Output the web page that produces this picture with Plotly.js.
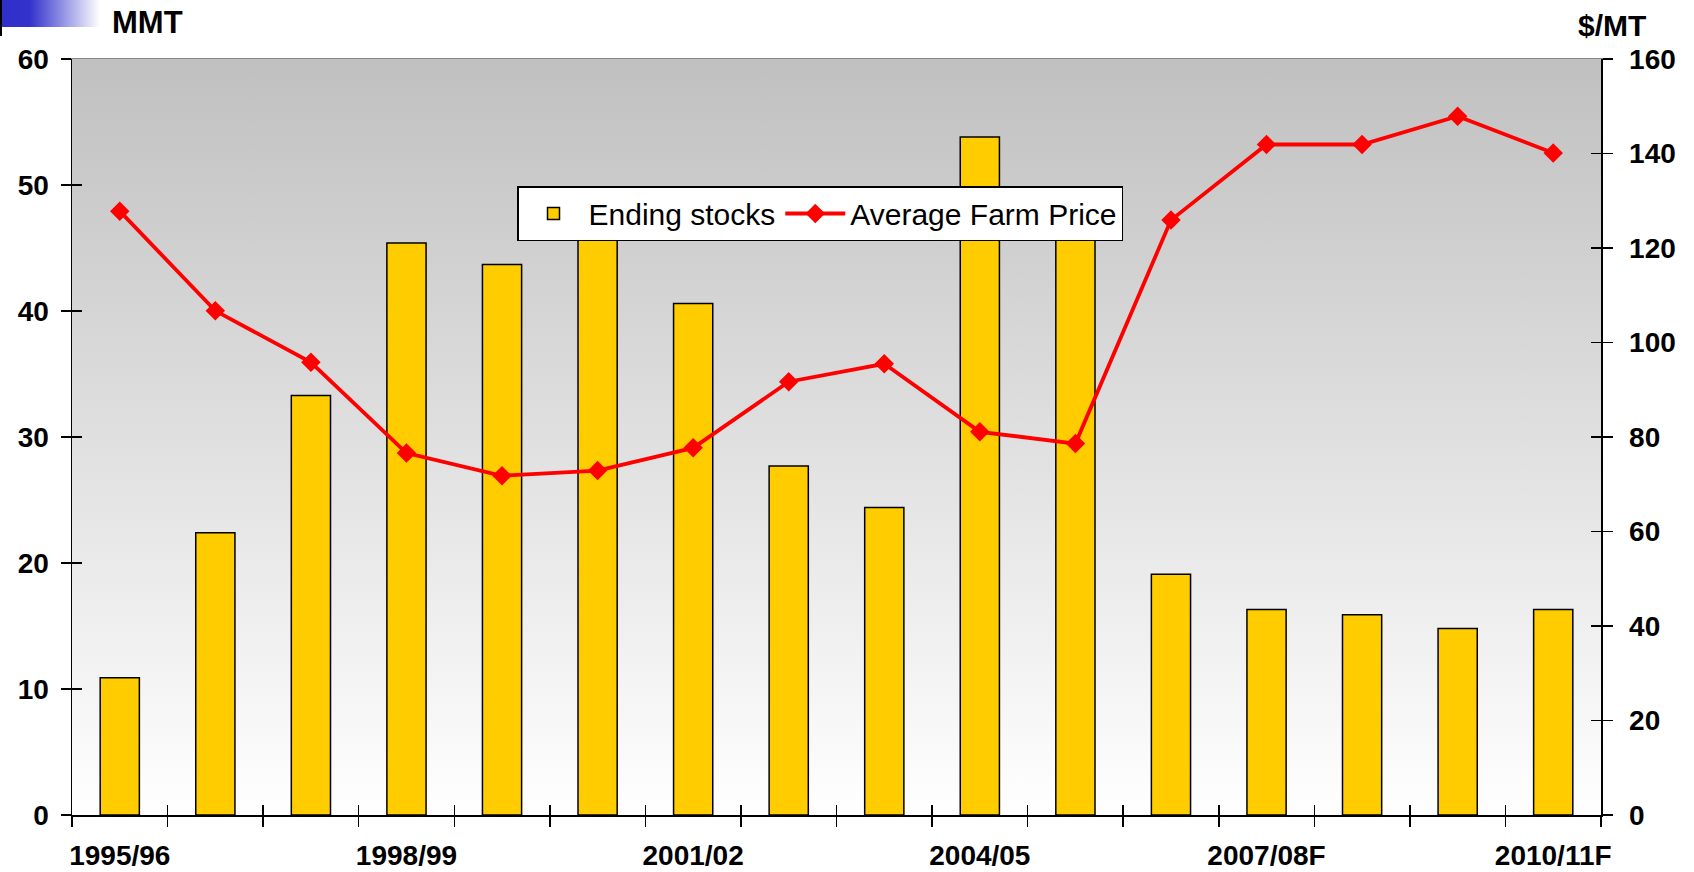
<!DOCTYPE html>
<html>
<head>
<meta charset="utf-8">
<script src="https://cdn.plot.ly/plotly-3.0.1.min.js"></script>
<style>
html,body{margin:0;padding:0;background:#fff;}
#chart{width:1694px;height:872px;}
</style>
</head>
<body>
<div id="chart"></div>
<script>
// ---- data ----
const categories = ["1995/96","1996/97","1997/98","1998/99","1999/00","2000/01","2001/02","2002/03",
                    "2003/04","2004/05","2005/06","2006/07","2007/08F","2008/09F","2009/10F","2010/11F"];
const endingStocks = [10.9, 22.4, 33.3, 45.4, 43.7, 48.2, 40.6, 27.7, 24.4, 53.8, 49.0, 19.1, 16.3, 15.9, 14.8, 16.3];
const farmPrice = [127.8, 106.7, 95.8, 76.6, 71.8, 72.9, 77.7, 91.7, 95.5, 81.1, 78.6, 125.9, 141.9, 141.9, 147.9, 140.1];
const tickLabels = ["1995/96","1998/99","2001/02","2004/05","2007/08F","2010/11F"];
const seriesNames = ["Ending stocks", "Average Farm Price"];
const leftTitle = "MMT";
const rightTitle = "$/MT";

const FONT = "Liberation Sans, Arial, Helvetica, sans-serif";
const W = 1694, H = 872;
const M = {l: 72, r: 93, t: 59, b: 57};
const plotW = W - M.l - M.r, plotH = H - M.t - M.b;
const px2x = p => (p - M.l) / plotW;
const px2y = p => (H - M.b - p) / plotH;
const catIndex = categories.map((c, i) => i);

const bgSvg = 'data:image/svg+xml;utf8,' + encodeURIComponent(
  '<svg xmlns="http://www.w3.org/2000/svg" width="100" height="100" preserveAspectRatio="none">' +
  '<defs><linearGradient id="g" x1="0" y1="0" x2="0" y2="1">' +
  '<stop offset="0" stop-color="#C0C0C0"/><stop offset="1" stop-color="#FFFFFF"/></linearGradient></defs>' +
  '<rect width="100" height="100" fill="url(#g)"/></svg>');

const cornerSvg = 'data:image/svg+xml;utf8,' + encodeURIComponent(
  '<svg xmlns="http://www.w3.org/2000/svg" width="100" height="36" preserveAspectRatio="none">' +
  '<defs><linearGradient id="b" x1="0" y1="0" x2="1" y2="0">' +
  '<stop offset="0" stop-color="#2E2EC8"/><stop offset="0.3" stop-color="#3333CC"/>' +
  '<stop offset="1" stop-color="#FFFFFF"/></linearGradient></defs>' +
  '<rect x="0" y="0" width="100" height="27" fill="url(#b)"/>' +
  '<rect x="0" y="0" width="2" height="36" fill="#000"/></svg>');

const tickFont = {family: FONT, size: 28, color: "#000", weight: 700};

const bars = {
  type: "bar", name: seriesNames[0], x: categories, y: endingStocks,
  xaxis: "x", yaxis: "y", width: 0.41,
  marker: {color: "#FFCC00", line: {color: "#000", width: 1.5}},
  hoverinfo: "skip"
};
const line = {
  type: "scatter", mode: "lines+markers", name: seriesNames[1], x: categories, y: farmPrice,
  xaxis: "x2", yaxis: "y2",
  line: {color: "#FF0000", width: 3.8},
  marker: {symbol: "diamond", size: 15, color: "#FF0000"},
  cliponaxis: false, hoverinfo: "skip"
};
// invisible helper traces so the crossing-tick axes are drawn
const tickHelperLeft = {
  type: "scatter", mode: "markers", x: catIndex, y: endingStocks, xaxis: "x3", yaxis: "y3",
  marker: {opacity: 0}, showlegend: false, hoverinfo: "skip"
};
const tickHelperRight = {
  type: "scatter", mode: "markers", x: catIndex, y: farmPrice, xaxis: "x4", yaxis: "y4",
  marker: {opacity: 0}, showlegend: false, hoverinfo: "skip"
};

const catRange = [-0.5, categories.length - 0.5];

const layout = {
  width: W, height: H, margin: M,
  paper_bgcolor: "#FFFFFF", plot_bgcolor: "#FFFFFF",
  showlegend: true,
  legend: {
    orientation: "h", x: px2x(517), y: px2y(186), xanchor: "left", yanchor: "top",
    bgcolor: "#FFFFFF", bordercolor: "#000", borderwidth: 1.5,
    font: {family: FONT, size: 30, color: "#000"}, itemwidth: 60
  },
  xaxis: {
    type: "category", range: catRange, tickson: "boundaries",
    ticks: "outside", ticklen: 10, tickwidth: 1.5, tickcolor: "#000",
    showticklabels: false, showline: true, linecolor: "#000", linewidth: 1.5,
    showgrid: false, zeroline: false, fixedrange: true
  },
  xaxis2: {
    type: "category", overlaying: "x", anchor: "y2", side: "bottom", range: catRange,
    tickmode: "array", tickvals: tickLabels, ticktext: tickLabels, ticks: "",
    tickfont: tickFont, ticklabelstandoff: 21,
    showline: false, showgrid: false, zeroline: false, fixedrange: true
  },
  xaxis3: {
    type: "linear", overlaying: "x", anchor: "y3", side: "bottom", range: catRange,
    tick0: -0.5, dtick: 1, ticks: "inside", ticklen: 10, tickwidth: 1.5, tickcolor: "#000",
    showticklabels: false, showline: false, showgrid: false, zeroline: false, fixedrange: true
  },
  xaxis4: {
    type: "linear", overlaying: "x", anchor: "y4", side: "top", range: catRange,
    ticks: "", showticklabels: false, showline: true, linecolor: "#888888", linewidth: 1,
    showgrid: false, zeroline: false, fixedrange: true
  },
  yaxis: {
    range: [0, 60], dtick: 10, tick0: 0, ticks: "outside", ticklen: 10, tickwidth: 1.5, tickcolor: "#000",
    showline: true, linecolor: "#000", linewidth: 1.5, tickfont: tickFont, ticklabelstandoff: 6,
    showgrid: false, zeroline: false, fixedrange: true
  },
  yaxis2: {
    overlaying: "y", side: "right", anchor: "x", range: [0, 160], dtick: 20, tick0: 0,
    ticks: "outside", ticklen: 10, tickwidth: 1.5, tickcolor: "#000",
    showline: true, linecolor: "#000", linewidth: 1.5, tickfont: tickFont, ticklabelstandoff: 11,
    showgrid: false, zeroline: false, fixedrange: true
  },
  yaxis3: {
    overlaying: "y", side: "left", anchor: "x", range: [0, 60], dtick: 10, tick0: 0,
    ticks: "inside", ticklen: 10, tickwidth: 1.5, tickcolor: "#000",
    showticklabels: false, showline: false, showgrid: false, zeroline: false, fixedrange: true
  },
  yaxis4: {
    overlaying: "y", side: "right", anchor: "x", range: [0, 160], dtick: 20, tick0: 0,
    ticks: "inside", ticklen: 10, tickwidth: 1.5, tickcolor: "#000",
    showticklabels: false, showline: false, showgrid: false, zeroline: false, fixedrange: true
  },
  images: [
    {source: bgSvg, xref: "paper", yref: "paper", x: 0, y: 1, sizex: 1, sizey: 1,
     xanchor: "left", yanchor: "top", sizing: "stretch", layer: "below"},
    {source: cornerSvg, xref: "paper", yref: "paper", x: px2x(0), y: px2y(0),
     sizex: 100 / plotW, sizey: 36 / plotH, xanchor: "left", yanchor: "top",
     sizing: "stretch", layer: "above"}
  ],
  annotations: [
    {text: leftTitle, xref: "paper", yref: "paper", x: px2x(147), y: px2y(22),
     xanchor: "center", yanchor: "middle", showarrow: false,
     font: {family: FONT, size: 31, color: "#000", weight: 700}},
    {text: rightTitle, xref: "paper", yref: "paper", x: px2x(1612), y: px2y(25),
     xanchor: "center", yanchor: "middle", showarrow: false,
     font: {family: FONT, size: 30, color: "#000", weight: 700}}
  ]
};

Plotly.newPlot("chart", [bars, line, tickHelperLeft, tickHelperRight], layout,
               {staticPlot: true, displayModeBar: false});
</script>
</body>
</html>
